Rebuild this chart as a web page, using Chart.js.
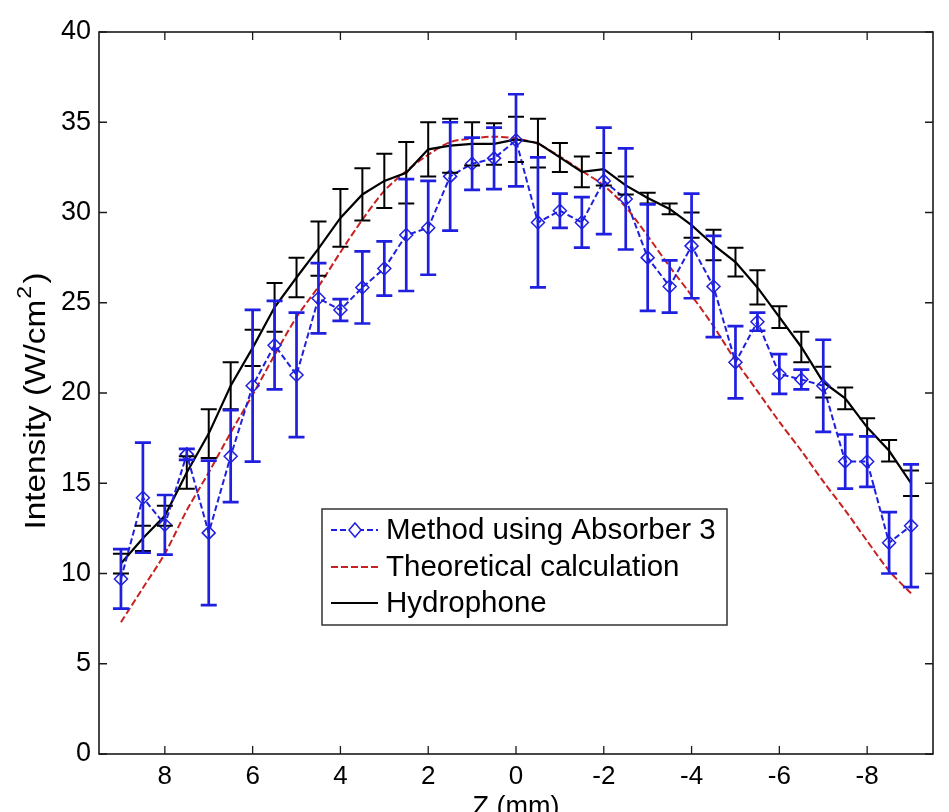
<!DOCTYPE html>
<html><head><meta charset="utf-8">
<script src="https://cdn.jsdelivr.net/npm/chart.js@4.4.1/dist/chart.umd.min.js"></script>
<style>html,body{margin:0;padding:0;background:#fff;overflow:hidden}#wrap{width:949px;height:812px}</style>
</head><body><div id="wrap"><canvas id="c" width="949" height="812"></canvas></div>
<script>
const zPositions = [9,8.5,8,7.5,7,6.5,6,5.5,5,4.5,4,3.5,3,2.5,2,1.5,1,0.5,0,-0.5,-1,-1.5,-2,-2.5,-3,-3.5,-4,-4.5,-5,-5.5,-6,-6.5,-7,-7.5,-8,-8.5,-9];
const absorberValues = [9.7,14.2,12.7,16.6,12.25,16.5,20.4,22.65,21.0,25.25,24.6,25.85,26.9,28.75,29.15,32.0,32.7,33.0,34.0,29.45,30.1,29.45,31.75,30.75,27.5,25.9,28.15,25.9,21.7,23.95,21.05,20.75,20.4,16.2,16.2,11.7,12.65];
const absorberErrors = [1.65,3.05,1.65,0.3,4.0,2.55,4.2,2.45,3.45,1.95,0.6,2.0,1.5,3.1,2.6,3.0,1.45,1.7,2.55,3.6,0.95,1.4,2.95,2.8,2.95,1.45,2.9,2.8,2.0,0.5,1.1,0.55,2.55,1.5,1.4,1.7,3.4];
const theoryValues = [7.3,9.2,11.1,13.5,15.6,17.8,19.9,22.1,24.2,25.9,27.8,29.6,31.2,32.3,33.2,33.9,34.1,34.2,34.1,33.8,33.1,32.3,31.5,30.3,28.7,27.0,25.4,23.7,21.8,20.1,18.4,16.8,15.1,13.5,11.8,10.15,8.9];
const hydrophoneValues = [10.55,11.95,13.2,15.6,17.75,20.4,22.5,24.75,26.4,28.0,29.7,31.0,31.75,32.2,33.5,33.7,33.8,33.8,34.05,33.85,33.05,32.25,32.4,31.5,30.8,30.2,29.3,28.2,27.25,25.85,24.2,22.55,20.6,19.7,18.1,16.8,15.0];
const hydrophoneErrors = [0.55,0.7,0.55,0.9,1.35,1.3,1.0,1.35,1.1,1.5,1.6,1.45,1.5,1.7,1.5,1.5,1.2,1.15,1.25,1.35,0.8,0.85,0.9,0.5,0.3,0.3,0.7,0.85,0.8,0.95,0.6,0.85,0.85,0.6,0.5,0.6,0.7];
const xTickValues = [8,6,4,2,0,-2,-4,-6,-8];
const yTickValues = [0,5,10,15,20,25,30,35,40];
const seriesLabels = ['Method using Absorber 3','Theoretical calculation','Hydrophone'];
const yTitleParts = ['Intensity (W/cm', '2', ')'];

const BLUE = '#1f1fe0', RED = '#c82020', BLACK = '#000000';
const FONT = 'Liberation Sans, Arial, sans-serif';
const pts = vals => zPositions.map((z,i)=>({x:z,y:vals[i]}));

const errorBars = {
  id:'errorBars',
  afterDatasetsDraw(chart){
    const ctx = chart.ctx, xs = chart.scales.x, ys = chart.scales.y;
    const sets = [
      {vals:hydrophoneValues, errs:hydrophoneErrors, color:BLACK, w:2},
      {vals:absorberValues, errs:absorberErrors, color:BLUE, w:2.7}
    ];
    ctx.save();
    sets.forEach(s=>{
      ctx.strokeStyle = s.color; ctx.lineWidth = s.w; ctx.setLineDash([]);
      zPositions.forEach((z,i)=>{
        const px = xs.getPixelForValue(z);
        const y1 = ys.getPixelForValue(s.vals[i]-s.errs[i]);
        const y2 = ys.getPixelForValue(s.vals[i]+s.errs[i]);
        ctx.beginPath();
        ctx.moveTo(px,y1); ctx.lineTo(px,y2);
        ctx.moveTo(px-8,y1); ctx.lineTo(px+8,y1);
        ctx.moveTo(px-8,y2); ctx.lineTo(px+8,y2);
        ctx.stroke();
      });
    });
    ctx.restore();
  }
};

const frameAndLegend = {
  id:'frameAndLegend',
  afterDraw(chart){
    const ctx = chart.ctx, a = chart.chartArea, xs = chart.scales.x, ys = chart.scales.y;
    ctx.save();
    ctx.strokeStyle = '#1a1a1a'; ctx.lineWidth = 1.6; ctx.setLineDash([]);
    ctx.strokeRect(a.left, a.top, a.right-a.left, a.bottom-a.top);
    const tl = 8;
    ctx.lineWidth = 1.3;
    ctx.beginPath();
    xTickValues.forEach(v=>{
      const px = xs.getPixelForValue(v);
      ctx.moveTo(px,a.bottom); ctx.lineTo(px,a.bottom-tl);
      ctx.moveTo(px,a.top); ctx.lineTo(px,a.top+tl);
    });
    yTickValues.forEach(v=>{
      const py = ys.getPixelForValue(v);
      ctx.moveTo(a.left,py); ctx.lineTo(a.left+tl,py);
      ctx.moveTo(a.right,py); ctx.lineTo(a.right-tl,py);
    });
    ctx.stroke();

    // y-axis title (MATLAB style superscript)
    ctx.save();
    const cy = (a.top + a.bottom)/2 + 8;
    ctx.translate(37, cy);
    ctx.rotate(-Math.PI/2);
    ctx.scale(1.15, 1);
    ctx.fillStyle = '#000';
    ctx.textBaseline = 'middle';
    ctx.textAlign = 'left';
    const mainF = '29px ' + FONT, supF = '20px ' + FONT;
    ctx.font = mainF; const w1 = ctx.measureText(yTitleParts[0]).width;
    ctx.font = supF; const w2 = ctx.measureText(yTitleParts[1]).width;
    ctx.font = mainF; const w3 = ctx.measureText(yTitleParts[2]).width;
    const total = w1 + w2 + 3 + w3;
    let x0 = -total/2;
    ctx.font = mainF; ctx.fillText(yTitleParts[0], x0, 0);
    ctx.font = supF; ctx.fillText(yTitleParts[1], x0 + w1 + 1, -12);
    ctx.font = mainF; ctx.fillText(yTitleParts[2], x0 + w1 + w2 + 3, 0);
    ctx.restore();

    // legend
    const lx = 322, ly = 509, lw = 405, lh = 116;
    ctx.fillStyle = '#fff';
    ctx.fillRect(lx,ly,lw,lh);
    ctx.strokeStyle = '#333'; ctx.lineWidth = 1.5;
    ctx.strokeRect(lx,ly,lw,lh);
    const rows = [530,567,603];
    const styles = [
      {c:BLUE,w:2,d:[6,3],m:true},
      {c:RED,w:2,d:[7,3],m:false},
      {c:BLACK,w:2.2,d:[],m:false}
    ];
    ctx.font = '29.5px ' + FONT;
    ctx.textBaseline = 'middle';
    ctx.textAlign = 'left';
    rows.forEach((ry,i)=>{
      const st = styles[i];
      ctx.strokeStyle = st.c; ctx.lineWidth = st.w; ctx.setLineDash(st.d);
      ctx.beginPath(); ctx.moveTo(331,ry); ctx.lineTo(378,ry); ctx.stroke();
      ctx.setLineDash([]);
      if(st.m){
        ctx.fillStyle='#fff';
        ctx.beginPath();
        ctx.moveTo(355,ry-7); ctx.lineTo(361,ry); ctx.lineTo(355,ry+7); ctx.lineTo(349,ry); ctx.closePath();
        ctx.fill(); ctx.lineWidth=1.5; ctx.stroke();
      }
      ctx.fillStyle = '#000';
      ctx.fillText(seriesLabels[i], 386, ry+1);
    });
    ctx.restore();
  }
};

new Chart(document.getElementById('c'), {
  type:'line',
  data:{datasets:[
    {label:seriesLabels[0], data:pts(absorberValues), borderColor:BLUE, borderWidth:2, borderDash:[6,3],
     pointStyle:'rectRot', pointRadius:6.5, pointBorderWidth:1.5, pointBorderColor:BLUE, pointBackgroundColor:'rgba(255,255,255,0)', tension:0},
    {label:seriesLabels[2], data:pts(hydrophoneValues), borderColor:BLACK, borderWidth:2.2, pointRadius:0, tension:0},
    {label:seriesLabels[1], data:pts(theoryValues), borderColor:RED, borderWidth:2, borderDash:[7,3], pointRadius:0, tension:0.3}
  ]},
  options:{
    responsive:false, devicePixelRatio:1, animation:false,
    layout:{padding:{left:0,right:16,top:32,bottom:0}},
    plugins:{legend:{display:false}, tooltip:{enabled:false}},
    scales:{
      x:{type:'linear', reverse:true, min:-9.5, max:9.5,
        afterBuildTicks:s=>{s.ticks = xTickValues.map(v=>({value:v}));},
        afterFit:s=>{s.height=58;},
        grid:{display:false, drawTicks:false}, border:{display:false},
        ticks:{padding:7, color:'#000', maxRotation:0, autoSkip:false, font:{family:FONT,size:26}},
        title:{display:true, text:'Z (mm)', color:'#000', font:{family:FONT,size:27}, padding:{top:0,bottom:-12}}
      },
      y:{type:'linear', min:0, max:40,
        afterBuildTicks:s=>{s.ticks = yTickValues.map(v=>({value:v}));},
        afterFit:s=>{s.width=99;},
        grid:{display:false, drawTicks:false}, border:{display:false},
        ticks:{padding:8, color:'#000', font:{family:FONT,size:27}},
        title:{display:false}
      }
    }
  },
  plugins:[errorBars, frameAndLegend]
});
</script></body></html>
